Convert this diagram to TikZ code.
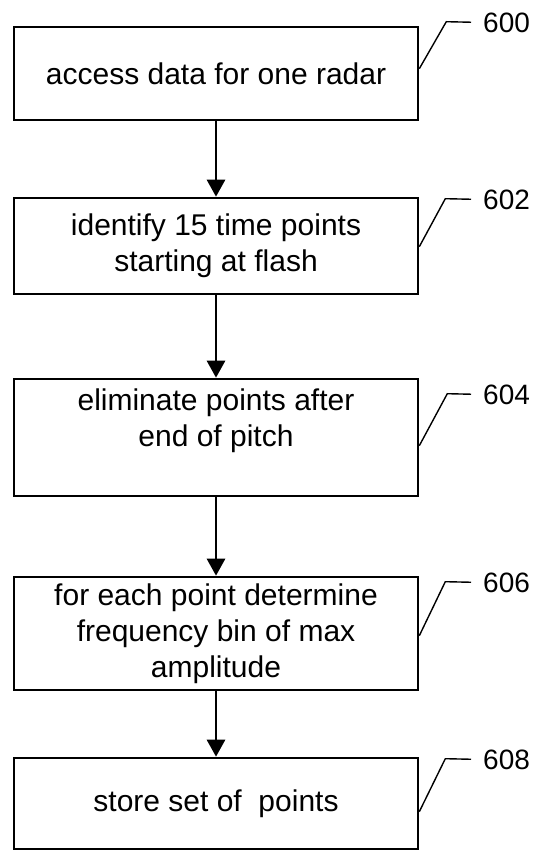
\documentclass[tikz,border=0pt]{standalone}
\usepackage{fontspec}
\setmainfont{Liberation Sans}
\usetikzlibrary{arrows.meta}
\begin{document}
\begin{tikzpicture}[x=1pt,y=-1pt,
  box/.style={draw,line width=2.6pt,minimum width=404pt,inner sep=0pt,align=center,font=\fontsize{30}{36}\selectfont},
  num/.style={anchor=west,inner sep=0pt,font=\fontsize{28}{32}\selectfont},
  lead/.style={line width=1.4pt,shorten >=12pt},
  arr/.style={line width=2.8pt,-{Triangle[width=18pt,length=17pt]}}]
\useasboundingbox (0,0) rectangle (547,851);

\node[box,minimum height=93pt] (600) at (216,73.5) {access data for one radar};
\node[box,minimum height=96pt] (602) at (216,246) {identify 15 time points\\starting at flash};
\node[box,minimum height=117pt,text depth=39pt] (604) at (216,437.5) {eliminate points after\\end of pitch};
\node[box,minimum height=113pt] (606) at (216,633.5) {for each point determine\\frequency bin of max\\amplitude};
\node[box,minimum height=91pt] (608) at (216,803.5) {store set of~ points};

\node[num] (n600) at (483,23) {600};
\node[num] (n602) at (483,200) {602};
\node[num] (n604) at (483,395) {604};
\node[num] (n606) at (483,583) {606};
\node[num] (n608) at (483,760) {608};

\draw[arr] (600) -- (602);
\draw[arr] (602) -- (604);
\draw[arr] (604) -- (606);
\draw[arr] (606) -- (608);

\draw[lead] (600.north east) ++(0,43) -- ++(27,-47) -- (n600);
\draw[lead] (602.north east) ++(0,50) -- ++(26,-48) -- (n602);
\draw[lead] (604.north east) ++(0,68) -- ++(28,-52) -- (n604);
\draw[lead] (606.north east) ++(0,60) -- ++(26,-54) -- (n606);
\draw[lead] (608.north east) ++(0,55) -- ++(26,-53) -- (n608);
\end{tikzpicture}
\end{document}
